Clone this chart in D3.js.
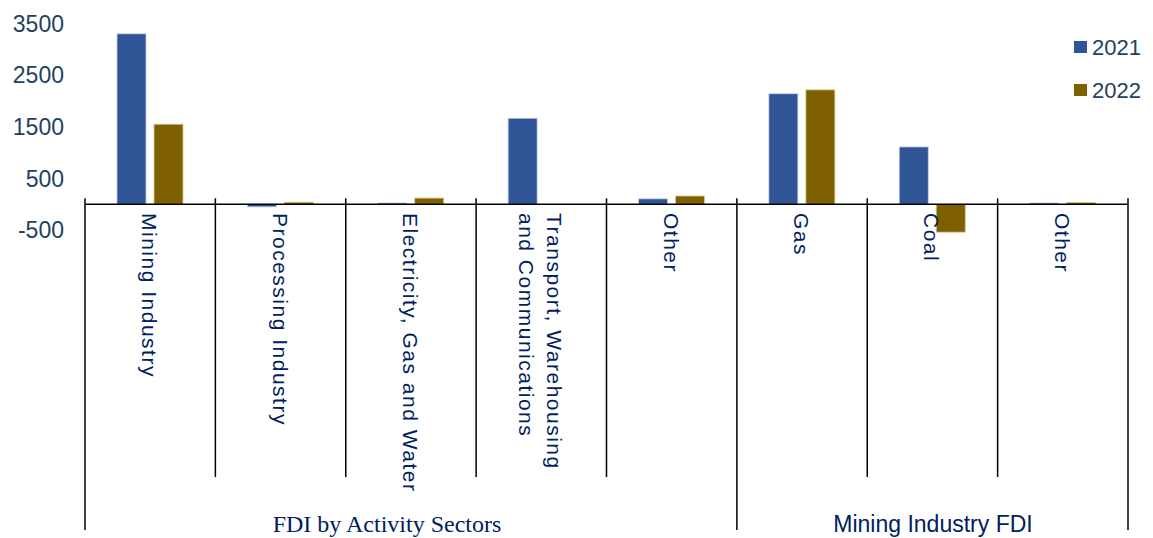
<!DOCTYPE html>
<html>
<head>
<meta charset="utf-8">
<script src="https://cdn.jsdelivr.net/npm/d3@7"></script>
<style>
  html, body { margin: 0; padding: 0; background: #fff; }
  svg { display: block; }
</style>
</head>
<body>
<svg id="chart" width="1153" height="538"></svg>
<script>
const categories = [
  ["Mining Industry"],
  ["Processing Industry"],
  ["Electricity, Gas and Water"],
  ["Transport, Warehousing", "and Communications"],
  ["Other"],
  ["Gas"],
  ["Coal"],
  ["Other"]
];
const series = ["2021", "2022"];
const values2021 = [3300, -50, 25, 1665, 105, 2140, 1110, 25];
const values2022 = [1550, 40, 120, 0, 160, 2215, -540, 35];
const yTicks = [-500, 500, 1500, 2500, 3500];
const groups = [
  { label: "FDI by Activity Sectors", start: 0, end: 5, serif: true },
  { label: "Mining Industry FDI", start: 5, end: 8, serif: false }
];
const colors = { "2021": "#2F5597", "2022": "#7F6000" };
const strokes = { "2021": "#c5d0e6", "2022": "#d9c98f" };

const svg = d3.select("#chart");
const sans = "'Liberation Sans', Arial, sans-serif";
const serif = "'Liberation Serif', 'Times New Roman', serif";
const tickColor = "#243F60";
const labelColor = "#002060";

const idx = categories.map((d, i) => i);
const x = d3.scaleBand().domain(idx).range([85, 1128]).padding(0);
const bw = x.bandwidth();
const xs = d3.scaleBand().domain(series).range([32, 98]).paddingInner(0.216).paddingOuter(0);
const y = d3.scaleLinear().domain([-500, 3500]).range([230.1, 23.5]);
const y0 = y(0);

// y tick labels (no axis line)
svg.append("g").selectAll("text").data(yTicks).join("text")
  .attr("x", 64).attr("y", d => y(d)).attr("dy", "0.36em")
  .attr("text-anchor", "end")
  .attr("font-family", sans).attr("font-size", 23)
  .attr("fill", tickColor)
  .text(d => d);

// bars
const data = [];
idx.forEach(i => {
  data.push({ i, s: "2021", v: values2021[i] });
  data.push({ i, s: "2022", v: values2022[i] });
});
svg.append("g").selectAll("rect").data(data.filter(d => d.v !== 0)).join("rect")
  .attr("x", d => x(d.i) + xs(d.s))
  .attr("width", xs.bandwidth())
  .attr("y", d => Math.min(y(d.v), y0))
  .attr("height", d => Math.abs(y(d.v) - y0))
  .attr("fill", d => colors[d.s])
  .attr("stroke", d => strokes[d.s])
  .attr("stroke-width", 0.8);

// axis line
svg.append("line")
  .attr("x1", x.range()[0]).attr("x2", x.range()[1])
  .attr("y1", y0).attr("y2", y0)
  .attr("stroke", "#000").attr("stroke-width", 1.6);

// separators
const bounds = d3.range(categories.length + 1);
const groupBounds = new Set(groups.flatMap(g => [g.start, g.end]));
svg.append("g").selectAll("line").data(bounds).join("line")
  .attr("x1", d => 85 + d * bw).attr("x2", d => 85 + d * bw)
  .attr("y1", y0 - 6)
  .attr("y2", d => groupBounds.has(d) ? 530 : 477)
  .attr("stroke", "#000").attr("stroke-width", 1.5);

// category labels (rotated)
const lineGap = 28;
const catG = svg.append("g");
categories.forEach((lines, i) => {
  const cx = x(i) + bw / 2;
  const n = lines.length;
  lines.forEach((t, k) => {
    const offset = ((n - 1) / 2 - k) * lineGap;
    const bx = cx - 8 + offset;
    catG.append("text")
      .attr("transform", `translate(${bx},${213}) rotate(90)`)
      .attr("font-family", sans).attr("font-size", 21)
      .attr("letter-spacing", "1.5px")
      .attr("fill", labelColor)
      .text(t);
  });
});

// group labels
svg.append("g").selectAll("text").data(groups).join("text")
  .attr("x", d => d.serif ? 387 : 933)
  .attr("y", 532)
  .attr("text-anchor", "middle")
  .attr("font-family", d => d.serif ? serif : sans)
  .attr("font-size", d => d.serif ? 24 : 23)
  .attr("fill", labelColor)
  .text(d => d.label);

// legend
const leg = svg.append("g");
series.forEach((s, k) => {
  const ly = 41 + k * 43;
  leg.append("rect").attr("x", 1074).attr("y", ly).attr("width", 13).attr("height", 12)
    .attr("fill", colors[s]);
  leg.append("text").attr("x", 1092).attr("y", ly + 14)
    .attr("font-family", sans).attr("font-size", 22)
    .attr("fill", tickColor).text(s);
});
</script>
</body>
</html>
